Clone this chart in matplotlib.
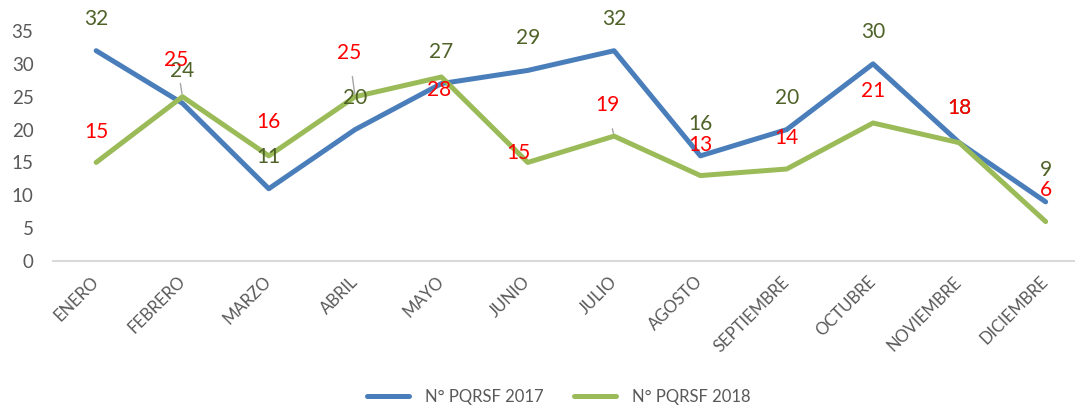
import matplotlib.pyplot as plt
import numpy as np

plt.rcParams['font.family'] = ['Lato', 'DejaVu Sans']

meses = ["ENERO", "FEBRERO", "MARZO", "ABRIL", "MAYO", "JUNIO", "JULIO",
         "AGOSTO", "SEPTIEMBRE", "OCTUBRE", "NOVIEMBRE", "DICIEMBRE"]
pqrsf_2017 = [32, 24, 11, 20, 27, 29, 32, 16, 20, 30, 18, 9]
pqrsf_2018 = [15, 25, 16, 25, 28, 15, 19, 13, 14, 21, 18, 6]
y_ticks = [0, 5, 10, 15, 20, 25, 30, 35]

# label offsets in pixels (dx, dy); the 2018 ones were moved by hand in the original
off_2017 = [(0, 32)] * 10 + [(0, 35), (0, 32)]
off_2018 = [(0, 30), (-6, 37), (0, 34), (-6, 44), (-2, -13), (-9, 9),
            (-7, 31), (0, 31), (0, 31), (0, 32), (0, 35), (0, 32)]
leader_2018 = [False, True, False, True, False, False,
               True, False, False, False, False, False]

BLUE = "#4A7EBB"
GREEN = "#9BBB59"
OLIVE = "#4F6228"
GRAY = "#595959"

fig = plt.figure(figsize=(10.75, 4.07), dpi=100)
ax = fig.add_axes([53 / 1075, (407 - 261) / 407, (1075 - 53) / 1075, 230 / 407])

x = np.arange(len(meses))
ax.plot(x, pqrsf_2017, color=BLUE, lw=3.6, solid_capstyle='round',
        solid_joinstyle='round', label="N° PQRSF 2017")
ax.plot(x, pqrsf_2018, color=GREEN, lw=3.6, solid_capstyle='round',
        solid_joinstyle='round', label="N° PQRSF 2018")

for i, v in enumerate(pqrsf_2017):
    ax.annotate(str(v), (i, v), xytext=off_2017[i], textcoords="offset pixels",
                ha='center', va='center', fontsize=15, color=OLIVE)

for i, v in enumerate(pqrsf_2018):
    props = None
    if leader_2018[i]:
        props = dict(arrowstyle='-', color='#A6A6A6', lw=1, shrinkA=8, shrinkB=2)
    ax.annotate(str(v), (i, v), xytext=off_2018[i], textcoords="offset pixels",
                ha='center', va='center', fontsize=15, color='red',
                arrowprops=props)

ax.set_xlim(-0.5, 11.34)
ax.set_ylim(0, 35)
ax.set_yticks(y_ticks)
ax.set_xticks(x)
ax.set_xticklabels(meses, rotation=45, ha='right', va='center',
                   rotation_mode='anchor', fontsize=12, color=GRAY)
ax.tick_params(axis='y', length=0, pad=14, labelsize=13.5, labelcolor=GRAY)
ax.tick_params(axis='x', length=0, pad=13)

for s in ['top', 'right', 'left']:
    ax.spines[s].set_visible(False)
ax.spines['bottom'].set_color('#D9D9D9')
ax.spines['bottom'].set_linewidth(1.5)

fig.legend(loc='center', bbox_to_anchor=(0.52, 10 / 407), ncol=2, frameon=False,
           fontsize=12, labelcolor=GRAY, handlelength=2.5, columnspacing=1.8,
           handletextpad=1.0)

fig.savefig("out.png", dpi=100)
